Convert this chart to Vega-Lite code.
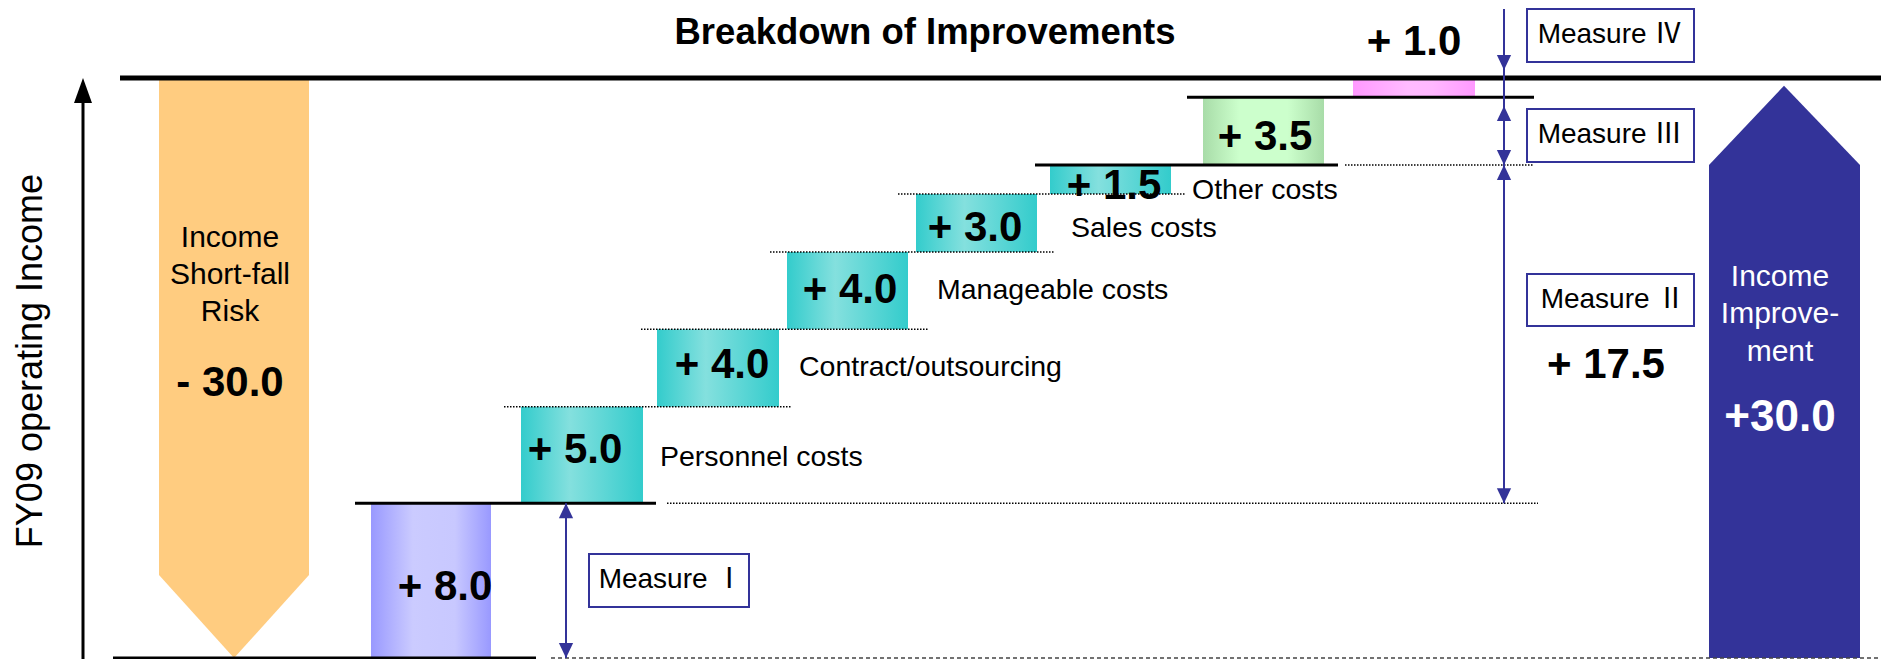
{
  "$schema": "https://vega.github.io/schema/vega-lite/v6.json",
  "width": 1881,
  "height": 659,
  "autosize": {"type": "none"},
  "padding": 0,
  "background": "white",
  "config": {"view": {"stroke": null}, "font": "Liberation Sans"},
  "datasets": {
    "shapes": [
      {"shape": "risk", "col": 159, "lo": 4.29, "hi": 30},
      {"shape": "risk", "col": 234, "lo": 0, "hi": 30},
      {"shape": "risk", "col": 309, "lo": 4.29, "hi": 30},
      {"shape": "improve", "col": 1709, "lo": 0, "hi": 25.5},
      {"shape": "improve", "col": 1784, "lo": 0, "hi": 29.6},
      {"shape": "improve", "col": 1860, "lo": 0, "hi": 25.5}
    ],
    "bars": [
      {"item": "Measure I", "grp": "m1", "col": 371, "col_end": 491, "lo": 0, "hi": 8},
      {"item": "Personnel costs", "grp": "m2", "col": 521, "col_end": 643, "lo": 8, "hi": 13},
      {"item": "Contract/outsourcing", "grp": "m2", "col": 657, "col_end": 779, "lo": 13, "hi": 17},
      {"item": "Manageable costs", "grp": "m2", "col": 787, "col_end": 908, "lo": 17, "hi": 21},
      {"item": "Sales costs", "grp": "m2", "col": 916, "col_end": 1037, "lo": 21, "hi": 24},
      {"item": "Other costs", "grp": "m2", "col": 1050, "col_end": 1171, "lo": 24, "hi": 25.5},
      {"item": "Measure III", "grp": "m3", "col": 1203, "col_end": 1324, "lo": 25.5, "hi": 29},
      {"item": "Measure IV", "grp": "m4", "col": 1353, "col_end": 1475, "lo": 29, "hi": 30}
    ],
    "hlines": [
      {"style": "thick", "col": 120, "col_end": 1881, "lev": 30},
      {"style": "solid", "col": 113, "col_end": 536, "lev": 0},
      {"style": "solid", "col": 355, "col_end": 656, "lev": 8},
      {"style": "solid", "col": 1035, "col_end": 1338, "lev": 25.5},
      {"style": "solid", "col": 1187, "col_end": 1534, "lev": 29},
      {"style": "dotted", "col": 504, "col_end": 791, "lev": 13},
      {"style": "dotted", "col": 641, "col_end": 928, "lev": 17},
      {"style": "dotted", "col": 770, "col_end": 1055, "lev": 21},
      {"style": "dotted", "col": 898, "col_end": 1185, "lev": 24},
      {"style": "dotted", "col": 1345, "col_end": 1534, "lev": 25.5},
      {"style": "dotted", "col": 667, "col_end": 1538, "lev": 8},
      {"style": "dashed", "col": 551, "col_end": 1881, "lev": 0}
    ],
    "vlines": [
      {"style": "axis", "col": 83, "lo": -0.2, "hi": 29.5},
      {"style": "measure", "col": 566, "lo": 0, "hi": 8},
      {"style": "measure", "col": 1504, "lo": 8, "hi": 33.57}
    ],
    "heads": [
      {"dir": "up", "kind": "axis", "col": 83, "lev": 30},
      {"dir": "up", "kind": "measure", "col": 566, "lev": 8},
      {"dir": "down", "kind": "measure", "col": 566, "lev": 0},
      {"dir": "down", "kind": "measure", "col": 1504, "lev": 30.41},
      {"dir": "up", "kind": "measure", "col": 1504, "lev": 28.55},
      {"dir": "down", "kind": "measure", "col": 1504, "lev": 25.5},
      {"dir": "up", "kind": "measure", "col": 1504, "lev": 25.5},
      {"dir": "down", "kind": "measure", "col": 1504, "lev": 8}
    ],
    "boxes": [
      {"label": "Measure Ⅰ", "col": 589, "col_end": 749, "lo": 2.64, "hi": 5.38, "tcol": 671, "tlev": 4.03},
      {"label": "Measure Ⅱ", "col": 1527, "col_end": 1694, "lo": 17.17, "hi": 19.86, "tcol": 1613, "tlev": 18.52},
      {"label": "Measure Ⅲ", "col": 1527, "col_end": 1694, "lo": 25.66, "hi": 28.4, "tcol": 1610, "tlev": 27.03},
      {"label": "Measure Ⅳ", "col": 1527, "col_end": 1694, "lo": 30.83, "hi": 33.57, "tcol": 1610, "tlev": 32.2}
    ],
    "labels": [
      {"kind": "title", "col": 925, "lev": 32.33, "text": "Breakdown of Improvements"},
      {"kind": "value", "col": 1414, "lev": 31.86, "text": "+ 1.0"},
      {"kind": "value", "col": 1265, "lev": 26.95, "text": "+ 3.5"},
      {"kind": "value", "col": 1114, "lev": 24.41, "text": "+ 1.5"},
      {"kind": "value", "col": 975, "lev": 22.24, "text": "+ 3.0"},
      {"kind": "value", "col": 850, "lev": 19.03, "text": "+ 4.0"},
      {"kind": "value", "col": 722, "lev": 15.16, "text": "+ 4.0"},
      {"kind": "value", "col": 575, "lev": 10.76, "text": "+ 5.0"},
      {"kind": "value", "col": 445, "lev": 3.67, "text": "+ 8.0"},
      {"kind": "value", "col": 1606, "lev": 15.16, "text": "+ 17.5"},
      {"kind": "value", "col": 230, "lev": 14.22, "text": "- 30.0"},
      {"kind": "cat", "col": 1192, "lev": 24.21, "text": "Other costs"},
      {"kind": "cat", "col": 1071, "lev": 22.24, "text": "Sales costs"},
      {"kind": "cat", "col": 937, "lev": 19.03, "text": "Manageable costs"},
      {"kind": "cat", "col": 799, "lev": 15.05, "text": "Contract/outsourcing"},
      {"kind": "cat", "col": 660, "lev": 10.4, "text": "Personnel costs"},
      {"kind": "side", "col": 230, "lev": 21.72, "text": "Income\nShort-fall\nRisk"},
      {"kind": "white", "col": 1780, "lev": 19.71, "text": "Income\nImprove-\nment"},
      {"kind": "whitevalue", "col": 1780, "lev": 12.41, "text": "+30.0"},
      {"kind": "axis", "col": 31, "lev": 15.36, "text": "FY09 operating Income"}
    ]
  },
  "layer": [
    {
      "data": {"name": "shapes"},
      "transform": [{"filter": "datum.shape == 'risk'"}],
      "mark": {"type": "area", "orient": "vertical", "color": "#ffcc80", "opacity": 1},
      "encoding": {
        "x": {"field": "col", "type": "quantitative", "scale": {"domain": [0, 1881], "nice": false, "zero": false}, "axis": null},
        "y": {"field": "hi", "type": "quantitative", "scale": {"domain": [-0.052, 34.034], "nice": false, "zero": false}, "axis": null},
        "y2": {"field": "lo"}
      }
    },
    {
      "data": {"name": "shapes"},
      "transform": [{"filter": "datum.shape == 'improve'"}],
      "mark": {"type": "area", "orient": "vertical", "color": "#333399", "opacity": 1},
      "encoding": {
        "x": {"field": "col", "type": "quantitative", "scale": {"domain": [0, 1881], "nice": false, "zero": false}, "axis": null},
        "y": {"field": "hi", "type": "quantitative", "scale": {"domain": [-0.052, 34.034], "nice": false, "zero": false}, "axis": null},
        "y2": {"field": "lo"}
      }
    },
    {
      "data": {"name": "bars"},
      "transform": [{"filter": "datum.grp == 'm1'"}],
      "mark": {"type": "rect", "color": {"gradient": "linear", "x1": 0, "x2": 1, "y1": 0, "y2": 0, "stops": [{"offset": 0, "color": "#9999ff"}, {"offset": 0.35, "color": "#cbcbff"}, {"offset": 0.7, "color": "#c8c8ff"}, {"offset": 1, "color": "#9999ff"}]}},
      "encoding": {
        "x": {"field": "col", "type": "quantitative", "scale": {"domain": [0, 1881], "nice": false, "zero": false}, "axis": null},
        "x2": {"field": "col_end"},
        "y": {"field": "hi", "type": "quantitative", "scale": {"domain": [-0.052, 34.034], "nice": false, "zero": false}, "axis": null},
        "y2": {"field": "lo"}
      }
    },
    {
      "data": {"name": "bars"},
      "transform": [{"filter": "datum.grp == 'm2'"}],
      "mark": {"type": "rect", "color": {"gradient": "linear", "x1": 0, "x2": 1, "y1": 0, "y2": 0, "stops": [{"offset": 0, "color": "#33cccc"}, {"offset": 0.4, "color": "#84e0de"}, {"offset": 1, "color": "#33cccc"}]}},
      "encoding": {
        "x": {"field": "col", "type": "quantitative", "scale": {"domain": [0, 1881], "nice": false, "zero": false}, "axis": null},
        "x2": {"field": "col_end"},
        "y": {"field": "hi", "type": "quantitative", "scale": {"domain": [-0.052, 34.034], "nice": false, "zero": false}, "axis": null},
        "y2": {"field": "lo"}
      }
    },
    {
      "data": {"name": "bars"},
      "transform": [{"filter": "datum.grp == 'm3'"}],
      "mark": {"type": "rect", "color": {"gradient": "linear", "x1": 0, "x2": 1, "y1": 0, "y2": 0, "stops": [{"offset": 0, "color": "#a8dca8"}, {"offset": 0.3, "color": "#ccffcc"}, {"offset": 0.7, "color": "#ccffcc"}, {"offset": 1, "color": "#a8dca8"}]}},
      "encoding": {
        "x": {"field": "col", "type": "quantitative", "scale": {"domain": [0, 1881], "nice": false, "zero": false}, "axis": null},
        "x2": {"field": "col_end"},
        "y": {"field": "hi", "type": "quantitative", "scale": {"domain": [-0.052, 34.034], "nice": false, "zero": false}, "axis": null},
        "y2": {"field": "lo"}
      }
    },
    {
      "data": {"name": "bars"},
      "transform": [{"filter": "datum.grp == 'm4'"}],
      "mark": {"type": "rect", "color": {"gradient": "linear", "x1": 0, "x2": 1, "y1": 0, "y2": 0, "stops": [{"offset": 0, "color": "#ff99ff"}, {"offset": 0.45, "color": "#ffbbff"}, {"offset": 0.65, "color": "#ffb8ff"}, {"offset": 1, "color": "#ff99ff"}]}},
      "encoding": {
        "x": {"field": "col", "type": "quantitative", "scale": {"domain": [0, 1881], "nice": false, "zero": false}, "axis": null},
        "x2": {"field": "col_end"},
        "y": {"field": "hi", "type": "quantitative", "scale": {"domain": [-0.052, 34.034], "nice": false, "zero": false}, "axis": null},
        "y2": {"field": "lo"}
      }
    },
    {
      "data": {"name": "labels"},
      "transform": [{"filter": "datum.kind == 'title'"}],
      "mark": {"type": "text", "font": "Liberation Sans", "fontSize": 36.5, "fontWeight": "bold", "align": "center", "baseline": "middle", "color": "black"},
      "encoding": {
        "x": {"field": "col", "type": "quantitative", "scale": {"domain": [0, 1881], "nice": false, "zero": false}, "axis": null},
        "y": {"field": "lev", "type": "quantitative", "scale": {"domain": [-0.052, 34.034], "nice": false, "zero": false}, "axis": null},
        "text": {"field": "text"}
      }
    },
    {
      "data": {"name": "labels"},
      "transform": [{"filter": "datum.kind == 'value'"}],
      "mark": {"type": "text", "font": "Liberation Sans", "fontSize": 42, "fontWeight": "bold", "align": "center", "baseline": "middle", "color": "black"},
      "encoding": {
        "x": {"field": "col", "type": "quantitative", "scale": {"domain": [0, 1881], "nice": false, "zero": false}, "axis": null},
        "y": {"field": "lev", "type": "quantitative", "scale": {"domain": [-0.052, 34.034], "nice": false, "zero": false}, "axis": null},
        "text": {"field": "text"}
      }
    },
    {
      "data": {"name": "labels"},
      "transform": [{"filter": "datum.kind == 'cat'"}],
      "mark": {"type": "text", "font": "Liberation Sans", "fontSize": 28.5, "align": "left", "baseline": "middle", "color": "black"},
      "encoding": {
        "x": {"field": "col", "type": "quantitative", "scale": {"domain": [0, 1881], "nice": false, "zero": false}, "axis": null},
        "y": {"field": "lev", "type": "quantitative", "scale": {"domain": [-0.052, 34.034], "nice": false, "zero": false}, "axis": null},
        "text": {"field": "text"}
      }
    },
    {
      "data": {"name": "labels"},
      "transform": [{"filter": "datum.kind == 'side'"}],
      "mark": {"type": "text", "font": "Liberation Sans", "fontSize": 30, "align": "center", "baseline": "middle", "lineBreak": "\n", "lineHeight": 37, "color": "black"},
      "encoding": {
        "x": {"field": "col", "type": "quantitative", "scale": {"domain": [0, 1881], "nice": false, "zero": false}, "axis": null},
        "y": {"field": "lev", "type": "quantitative", "scale": {"domain": [-0.052, 34.034], "nice": false, "zero": false}, "axis": null},
        "text": {"field": "text"}
      }
    },
    {
      "data": {"name": "labels"},
      "transform": [{"filter": "datum.kind == 'white'"}],
      "mark": {"type": "text", "font": "Liberation Sans", "fontSize": 30, "align": "center", "baseline": "middle", "lineBreak": "\n", "lineHeight": 37.5, "color": "white"},
      "encoding": {
        "x": {"field": "col", "type": "quantitative", "scale": {"domain": [0, 1881], "nice": false, "zero": false}, "axis": null},
        "y": {"field": "lev", "type": "quantitative", "scale": {"domain": [-0.052, 34.034], "nice": false, "zero": false}, "axis": null},
        "text": {"field": "text"}
      }
    },
    {
      "data": {"name": "labels"},
      "transform": [{"filter": "datum.kind == 'whitevalue'"}],
      "mark": {"type": "text", "font": "Liberation Sans", "fontSize": 44, "fontWeight": "bold", "align": "center", "baseline": "middle", "color": "white"},
      "encoding": {
        "x": {"field": "col", "type": "quantitative", "scale": {"domain": [0, 1881], "nice": false, "zero": false}, "axis": null},
        "y": {"field": "lev", "type": "quantitative", "scale": {"domain": [-0.052, 34.034], "nice": false, "zero": false}, "axis": null},
        "text": {"field": "text"}
      }
    },
    {
      "data": {"name": "labels"},
      "transform": [{"filter": "datum.kind == 'axis'"}],
      "mark": {"type": "text", "font": "Liberation Sans", "fontSize": 36, "angle": 270, "align": "center", "baseline": "middle", "color": "black"},
      "encoding": {
        "x": {"field": "col", "type": "quantitative", "scale": {"domain": [0, 1881], "nice": false, "zero": false}, "axis": null},
        "y": {"field": "lev", "type": "quantitative", "scale": {"domain": [-0.052, 34.034], "nice": false, "zero": false}, "axis": null},
        "text": {"field": "text"}
      }
    },
    {
      "data": {"name": "hlines"},
      "transform": [{"filter": "datum.style == 'thick'"}],
      "mark": {"type": "rule", "color": "black", "strokeWidth": 5},
      "encoding": {
        "x": {"field": "col", "type": "quantitative", "scale": {"domain": [0, 1881], "nice": false, "zero": false}, "axis": null},
        "x2": {"field": "col_end"},
        "y": {"field": "lev", "type": "quantitative", "scale": {"domain": [-0.052, 34.034], "nice": false, "zero": false}, "axis": null}
      }
    },
    {
      "data": {"name": "hlines"},
      "transform": [{"filter": "datum.style == 'solid'"}],
      "mark": {"type": "rule", "color": "black", "strokeWidth": 3},
      "encoding": {
        "x": {"field": "col", "type": "quantitative", "scale": {"domain": [0, 1881], "nice": false, "zero": false}, "axis": null},
        "x2": {"field": "col_end"},
        "y": {"field": "lev", "type": "quantitative", "scale": {"domain": [-0.052, 34.034], "nice": false, "zero": false}, "axis": null}
      }
    },
    {
      "data": {"name": "hlines"},
      "transform": [{"filter": "datum.style == 'dotted'"}],
      "mark": {"type": "rule", "color": "black", "strokeWidth": 1.5, "strokeDash": [1.5, 1.5]},
      "encoding": {
        "x": {"field": "col", "type": "quantitative", "scale": {"domain": [0, 1881], "nice": false, "zero": false}, "axis": null},
        "x2": {"field": "col_end"},
        "y": {"field": "lev", "type": "quantitative", "scale": {"domain": [-0.052, 34.034], "nice": false, "zero": false}, "axis": null}
      }
    },
    {
      "data": {"name": "hlines"},
      "transform": [{"filter": "datum.style == 'dashed'"}],
      "mark": {"type": "rule", "color": "#444444", "strokeWidth": 1.5, "strokeDash": [4, 3]},
      "encoding": {
        "x": {"field": "col", "type": "quantitative", "scale": {"domain": [0, 1881], "nice": false, "zero": false}, "axis": null},
        "x2": {"field": "col_end"},
        "y": {"field": "lev", "type": "quantitative", "scale": {"domain": [-0.052, 34.034], "nice": false, "zero": false}, "axis": null}
      }
    },
    {
      "data": {"name": "vlines"},
      "transform": [{"filter": "datum.style == 'axis'"}],
      "mark": {"type": "rule", "color": "black", "strokeWidth": 3},
      "encoding": {
        "x": {"field": "col", "type": "quantitative", "scale": {"domain": [0, 1881], "nice": false, "zero": false}, "axis": null},
        "y": {"field": "hi", "type": "quantitative", "scale": {"domain": [-0.052, 34.034], "nice": false, "zero": false}, "axis": null},
        "y2": {"field": "lo"}
      }
    },
    {
      "data": {"name": "vlines"},
      "transform": [{"filter": "datum.style == 'measure'"}],
      "mark": {"type": "rule", "color": "#333399", "strokeWidth": 2},
      "encoding": {
        "x": {"field": "col", "type": "quantitative", "scale": {"domain": [0, 1881], "nice": false, "zero": false}, "axis": null},
        "y": {"field": "hi", "type": "quantitative", "scale": {"domain": [-0.052, 34.034], "nice": false, "zero": false}, "axis": null},
        "y2": {"field": "lo"}
      }
    },
    {
      "data": {"name": "heads"},
      "transform": [{"filter": "datum.kind == 'axis'"}],
      "mark": {"type": "point", "shape": "M 0 0 L -0.72 2 L 0.72 2 Z", "size": 625, "filled": true, "color": "black", "opacity": 1, "strokeWidth": 0},
      "encoding": {
        "x": {"field": "col", "type": "quantitative", "scale": {"domain": [0, 1881], "nice": false, "zero": false}, "axis": null},
        "y": {"field": "lev", "type": "quantitative", "scale": {"domain": [-0.052, 34.034], "nice": false, "zero": false}, "axis": null}
      }
    },
    {
      "data": {"name": "heads"},
      "transform": [{"filter": "datum.kind == 'measure' && datum.dir == 'up'"}],
      "mark": {"type": "point", "shape": "M 0 0 L -0.95 2 L 0.95 2 Z", "size": 225, "filled": true, "color": "#333399", "opacity": 1, "strokeWidth": 0},
      "encoding": {
        "x": {"field": "col", "type": "quantitative", "scale": {"domain": [0, 1881], "nice": false, "zero": false}, "axis": null},
        "y": {"field": "lev", "type": "quantitative", "scale": {"domain": [-0.052, 34.034], "nice": false, "zero": false}, "axis": null}
      }
    },
    {
      "data": {"name": "heads"},
      "transform": [{"filter": "datum.kind == 'measure' && datum.dir == 'down'"}],
      "mark": {"type": "point", "shape": "M 0 0 L -0.95 -2 L 0.95 -2 Z", "size": 225, "filled": true, "color": "#333399", "opacity": 1, "strokeWidth": 0},
      "encoding": {
        "x": {"field": "col", "type": "quantitative", "scale": {"domain": [0, 1881], "nice": false, "zero": false}, "axis": null},
        "y": {"field": "lev", "type": "quantitative", "scale": {"domain": [-0.052, 34.034], "nice": false, "zero": false}, "axis": null}
      }
    },
    {
      "data": {"name": "boxes"},
      "mark": {"type": "rect", "fill": "white", "stroke": "#333399", "strokeWidth": 2},
      "encoding": {
        "x": {"field": "col", "type": "quantitative", "scale": {"domain": [0, 1881], "nice": false, "zero": false}, "axis": null},
        "x2": {"field": "col_end"},
        "y": {"field": "hi", "type": "quantitative", "scale": {"domain": [-0.052, 34.034], "nice": false, "zero": false}, "axis": null},
        "y2": {"field": "lo"}
      }
    },
    {
      "data": {"name": "boxes"},
      "mark": {"type": "text", "font": "Liberation Sans, Noto Sans CJK JP", "fontSize": 28, "align": "center", "baseline": "middle", "color": "black"},
      "encoding": {
        "x": {"field": "tcol", "type": "quantitative", "scale": {"domain": [0, 1881], "nice": false, "zero": false}, "axis": null},
        "y": {"field": "tlev", "type": "quantitative", "scale": {"domain": [-0.052, 34.034], "nice": false, "zero": false}, "axis": null},
        "text": {"field": "label"}
      }
    }
  ]
}
